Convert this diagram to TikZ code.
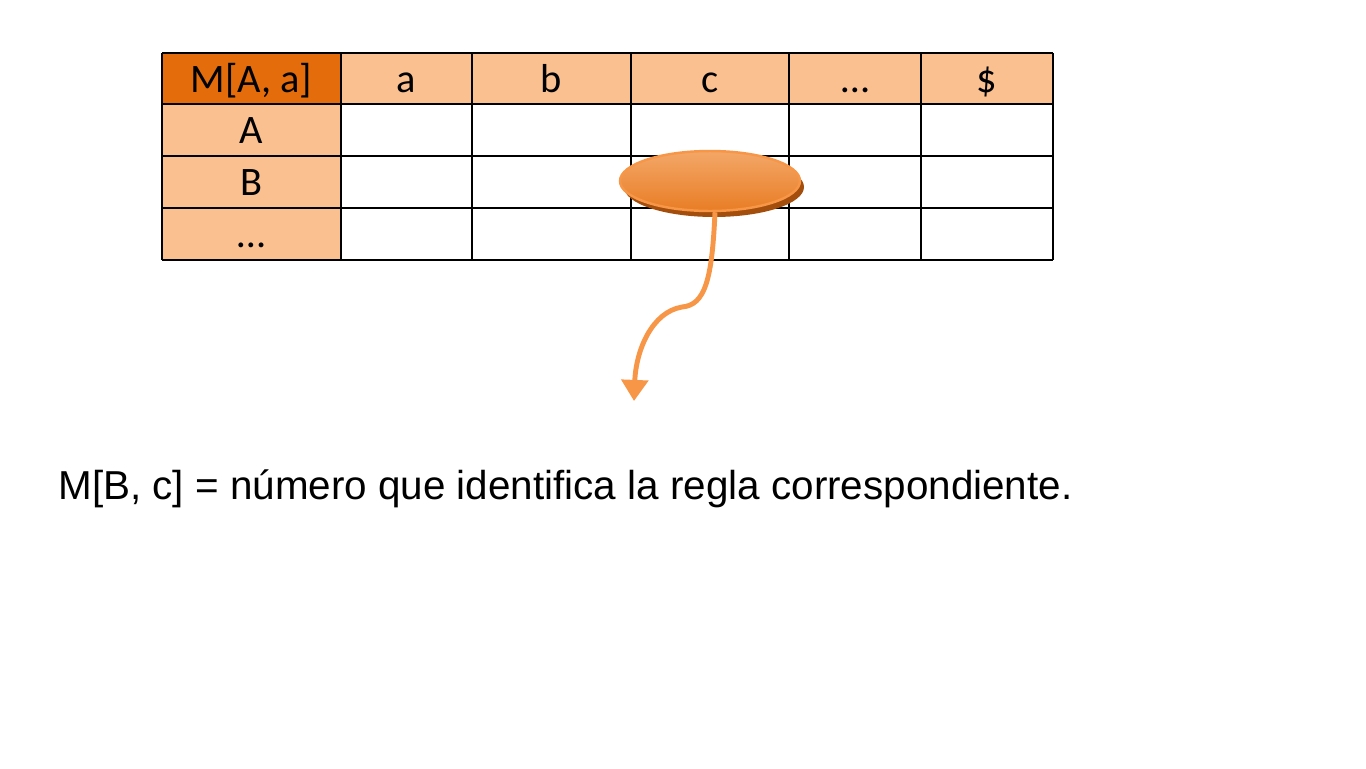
\documentclass[tikz,border=0pt]{standalone}
\usepackage{fontspec}
\setmainfont{Liberation Sans}
\newfontfamily\cellfont{Carlito}
\usetikzlibrary{arrows.meta, shapes.geometric}
\definecolor{darkorange}{HTML}{E46C0A}
\definecolor{lightorange}{HTML}{FAC090}
\definecolor{lineorange}{HTML}{F79646}
\definecolor{shadeorange}{HTML}{A34E0C}

\begin{document}
\begin{tikzpicture}[x=0.02cm, y=-0.02cm,
        celltext/.style={font=\cellfont\fontsize{23}{23}\selectfont, anchor=base, inner sep=0pt},
        gridline/.style={line width=1.1pt, black},
        flow/.style={lineorange, line width=2.8pt, -{Triangle[width=15pt, length=12pt]}}]
        \useasboundingbox (0,0) rectangle (1366,768);

        % table fills
        \fill[lightorange] (162,53) rectangle (1053,104);
        \fill[lightorange] (162,104) rectangle (341,260);
        \fill[darkorange] (162,53) rectangle (341,104);

        % table grid
        \foreach \x in {162,341,472,631,789,921,1053}
            \draw[gridline] (\x,53) -- (\x,260);
        \foreach \y in {53,104,156,208,260}
            \draw[gridline] (162,\y) -- (1053,\y);

        % header row
        \node[celltext] (M) at (251.5,92) {M[A, a]};
        \foreach \cx/\lbl/\nm in {406.5/a/Ta, 551.5/b/Tb, 710/c/Tc, 855/…/Tdots, 987/\$/Tend}
            \node[celltext] (\nm) at (\cx,92) {\lbl};

        % first column
        \foreach \by/\lbl/\nm in {143/A/NA, 195/B/NB, 247/…/Ndots}
            \node[celltext] (\nm) at (251.5,\by) {\lbl};

        % highlighted entry
        \fill[shadeorange] (714,187) ellipse [x radius=1.8cm, y radius=0.6cm];
        \node[ellipse, draw=lineorange, line width=1.4pt, top color={lightorange!70!darkorange},
              bottom color={darkorange!80!lightorange}, minimum width=3.6cm, minimum height=1.2cm,
              inner sep=0pt] (sel) at (710,181) {};

        \coordinate (tip) at (634,401);
        \draw[flow] ([xshift=0.1cm]sel.south) .. controls (712,280) and (705,305) .. (682,307)
              .. controls (652,312) and (636,350) .. (tip);

        \node[anchor=base west, inner sep=0pt, font=\fontsize{23}{27}\selectfont] (rule) at (58,499)
            {M[B, c] = número que identifica la regla correspondiente.};
\end{tikzpicture}
\end{document}
